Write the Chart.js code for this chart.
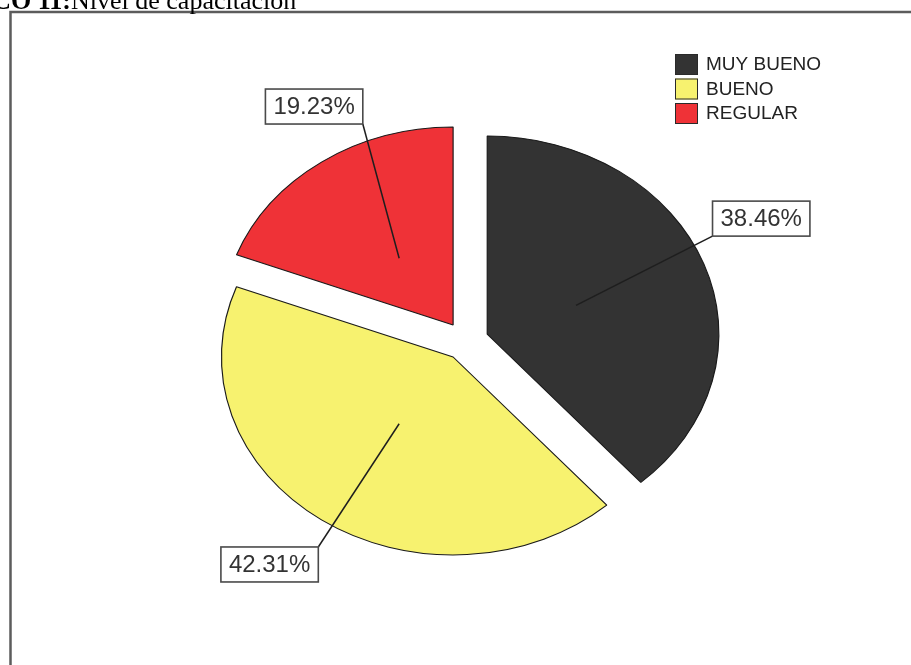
<!DOCTYPE html>
<html>
<head>
<meta charset="utf-8">
<title>Nivel de capacitación</title>
<script src="https://cdn.jsdelivr.net/npm/chart.js@4.4.1/dist/chart.umd.min.js"></script>
<style>
  html, body { margin: 0; padding: 0; background: #ffffff; overflow: hidden; }
  canvas { display: block; }
</style>
</head>
<body>
<canvas id="chart" width="911" height="665"></canvas>
<script>
// Nivel de capacitación: share of respondents per rating
const categories = ['MUY BUENO', 'BUENO', 'REGULAR'];
const percentages = [38.46, 42.31, 19.23];
const sliceColors = ['#333333', '#f7f26f', '#ef3237'];
const captionBold = 'GRÁFICO 11:';
const captionText = 'Nivel de capacitación';

// Appearance of the exploded, slightly oval pie and its callouts
const pieStyle = { xStretch: 1.17, explode: 19.4, leaderDepth: 0.41 };
// Callout box centres, measured from each exploded slice's apex
const calloutOffsets = [
  { dx: 274, dy: -115.5 },
  { dx: -183.5, dy: 207.5 },
  { dx: -139, dy: -218.5 }
];

const SANS = '"Liberation Sans", Arial, Helvetica, sans-serif';
const SERIF = '"Liberation Serif", "Times New Roman", Times, serif';

function sliceGeometry(arc) {
  const mid = (arc.startAngle + arc.endAngle) / 2;
  const ax = arc.x + Math.cos(mid) * pieStyle.explode * pieStyle.xStretch;
  const ay = arc.y + Math.sin(mid) * pieStyle.explode;
  const depth = arc.outerRadius * pieStyle.leaderDepth;
  return {
    mid, ax, ay,
    ix: ax + Math.cos(mid) * depth * pieStyle.xStretch,
    iy: ay + Math.sin(mid) * depth
  };
}

// Page frame and the document caption above it
const framePlugin = {
  id: 'frame',
  beforeDraw(chart) {
    const ctx = chart.ctx;
    ctx.save();
    ctx.fillStyle = '#ffffff';
    ctx.fillRect(0, 0, chart.width, chart.height);

    ctx.strokeStyle = '#5c5c5c';
    ctx.lineWidth = 2.5;
    ctx.beginPath();
    ctx.moveTo(10.5, chart.height + 5);
    ctx.lineTo(10.5, 12);
    ctx.lineTo(chart.width + 5, 12);
    ctx.stroke();

    ctx.fillStyle = '#000000';
    ctx.textBaseline = 'alphabetic';
    ctx.font = 'bold 26px ' + SERIF;
    ctx.textAlign = 'right';
    ctx.fillText(captionBold, 71, 9);
    ctx.font = '26px ' + SERIF;
    ctx.textAlign = 'left';
    ctx.fillText(captionText, 71, 9);
    ctx.restore();
  }
};

// Draws each slice pushed out from the centre, with a horizontal stretch
const explodedPie = {
  id: 'explodedPie',
  beforeDatasetDraw(chart, args) {
    const ctx = chart.ctx;
    args.meta.data.forEach(arc => {
      const mid = (arc.startAngle + arc.endAngle) / 2;
      ctx.save();
      ctx.translate(arc.x, arc.y);
      ctx.scale(pieStyle.xStretch, 1);
      ctx.translate(Math.cos(mid) * pieStyle.explode, Math.sin(mid) * pieStyle.explode);
      ctx.translate(-arc.x, -arc.y);
      arc.draw(ctx);
      ctx.restore();
    });
    return false;
  }
};

// Percentage callouts with leader lines into each slice
const calloutPlugin = {
  id: 'callouts',
  afterDatasetsDraw(chart) {
    const ctx = chart.ctx;
    const meta = chart.getDatasetMeta(0);
    const values = chart.data.datasets[0].data;
    ctx.save();
    ctx.font = '24px ' + SANS;
    meta.data.forEach((arc, i) => {
      const g = sliceGeometry(arc);
      const text = values[i].toFixed(2) + '%';
      const w = ctx.measureText(text).width + 16;
      const h = 35;
      const cx = g.ax + calloutOffsets[i].dx;
      const cy = g.ay + calloutOffsets[i].dy;
      const left = cx - w / 2, top = cy - h / 2;
      const corners = [
        [left, top], [left + w, top], [left, top + h], [left + w, top + h]
      ];
      let best = corners[0], bestD = Infinity;
      corners.forEach(c => {
        const d = Math.hypot(c[0] - g.ix, c[1] - g.iy);
        if (d < bestD) { bestD = d; best = c; }
      });

      ctx.strokeStyle = '#1e1e1e';
      ctx.lineWidth = 1.5;
      ctx.beginPath();
      ctx.moveTo(g.ix, g.iy);
      ctx.lineTo(best[0], best[1]);
      ctx.stroke();

      ctx.fillStyle = '#ffffff';
      ctx.fillRect(left, top, w, h);
      ctx.strokeStyle = '#4a4a4a';
      ctx.lineWidth = 1.6;
      ctx.strokeRect(left, top, w, h);

      ctx.fillStyle = '#333333';
      ctx.textAlign = 'center';
      ctx.textBaseline = 'middle';
      ctx.fillText(text, cx, cy + 1);
    });
    ctx.restore();
  }
};

// Legend in the upper right corner
const legendPlugin = {
  id: 'cornerLegend',
  afterDraw(chart) {
    const ctx = chart.ctx;
    const colors = chart.data.datasets[0].backgroundColor;
    ctx.save();
    ctx.font = '19px ' + SANS;
    ctx.textAlign = 'left';
    ctx.textBaseline = 'middle';
    chart.data.labels.forEach((label, i) => {
      const y = 54 + i * 24.5;
      ctx.fillStyle = colors[i];
      ctx.fillRect(675, y, 23, 21);
      ctx.strokeStyle = '#2a2a2a';
      ctx.lineWidth = 1;
      ctx.strokeRect(675.5, y + 0.5, 22, 20);
      ctx.fillStyle = '#222222';
      ctx.fillText(label, 706, y + 11);
    });
    ctx.restore();
  }
};

new Chart(document.getElementById('chart'), {
  type: 'pie',
  data: {
    labels: categories,
    datasets: [{
      data: percentages,
      backgroundColor: sliceColors,
      borderColor: '#1a1a1a',
      borderWidth: 1
    }]
  },
  options: {
    responsive: false,
    animation: false,
    events: [],
    radius: 198,
    layout: { padding: { left: 41, right: 20, top: 37, bottom: 20 } },
    plugins: {
      legend: { display: false },
      tooltip: { enabled: false },
      title: { display: false }
    }
  },
  plugins: [framePlugin, explodedPie, calloutPlugin, legendPlugin]
});
</script>
</body>
</html>
